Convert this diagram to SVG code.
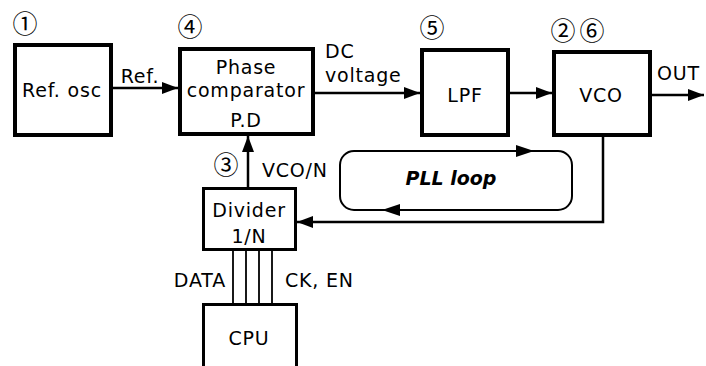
<svg xmlns="http://www.w3.org/2000/svg" width="706" height="366" viewBox="0 0 706 366">
<style>
  .box { fill: #fff; stroke: #000; stroke-width: 4; }
  .sbox { fill: #fff; stroke: #000; stroke-width: 3; }
  .t { font-family: "DejaVu Sans", "Liberation Sans", sans-serif; font-size: 19px; letter-spacing: 0.8px; fill: #000; }
  .c { text-anchor: middle; }
  .num { font-family: "Noto Sans CJK JP", "DejaVu Sans", sans-serif; font-size: 25px; fill: #000; text-anchor: middle; }
  .ln { fill: none; stroke: #000; stroke-width: 2.5; }
  .bus { fill: none; stroke: #000; stroke-width: 1.8; }
  .loop { fill: none; stroke: #000; stroke-width: 2; }
  .bi { font-family: "DejaVu Sans", "Liberation Sans", sans-serif; font-size: 19px; font-weight: bold; font-style: italic; fill: #000; }
</style>
<defs>
  <marker id="ah" viewBox="0 0 16 12" refX="16" refY="6" markerWidth="16" markerHeight="12" markerUnits="userSpaceOnUse" orient="auto">
    <path d="M0,0 L16,6 L0,12 Z" fill="#000"/>
  </marker>
</defs>
<rect width="706" height="366" fill="#fff"/>

<g id="connectors">
  <line class="ln" x1="113" y1="88" x2="178" y2="88" marker-end="url(#ah)"/>
  <line class="ln" x1="315" y1="93" x2="420" y2="93" marker-end="url(#ah)"/>
  <line class="ln" x1="510" y1="93" x2="552" y2="93" marker-end="url(#ah)"/>
  <line class="ln" x1="652" y1="95" x2="704" y2="95" marker-end="url(#ah)"/>
  <polyline class="ln" points="603,137 603,222 297,222" marker-end="url(#ah)"/>
  <line class="ln" x1="248" y1="187" x2="248" y2="136" marker-end="url(#ah)"/>
  <line class="bus" x1="233" y1="250" x2="233" y2="303"/>
  <line class="bus" x1="246" y1="250" x2="246" y2="303"/>
  <line class="bus" x1="259" y1="250" x2="259" y2="303"/>
  <line class="bus" x1="272" y1="250" x2="272" y2="303"/>
  <rect class="loop" x="340" y="151" width="232" height="59" rx="14" ry="14"/>
  <path d="M516,145 L534,151 L516,157 Z" fill="#000"/>
  <path d="M400,204 L382,210 L400,216 Z" fill="#000"/>
  <text class="t" x="325" y="58">DC</text>
  <text class="t" x="325" y="82">voltage</text>
  <text class="t c" x="140" y="83">Ref.</text>
  <text class="t" x="657" y="80">OUT</text>
  <text class="t" x="262" y="177">VCO/N</text>
  <text class="t" x="226" y="287" text-anchor="end">DATA</text>
  <text class="t" x="285" y="287">CK, EN</text>
  <text class="bi" x="451" y="185" text-anchor="middle">PLL loop</text>
</g>

<g id="refosc">
  <rect class="box" x="15" y="45" width="96" height="90"/>
  <text class="t c" x="62" y="97">Ref. osc</text>
  <text class="num" x="25" y="33">①</text>
</g>

<g id="pd">
  <rect class="box" x="180" y="49" width="133" height="85"/>
  <text class="t c" x="246" y="74">Phase</text>
  <text class="t c" x="246" y="97">comparator</text>
  <text class="t c" x="246" y="127">P.D</text>
  <text class="num" x="190" y="36">④</text>
</g>

<g id="lpf">
  <rect class="box" x="422" y="50" width="86" height="85"/>
  <text class="t c" x="465" y="102">LPF</text>
  <text class="num" x="432" y="37">⑤</text>
</g>

<g id="vco">
  <rect class="box" x="554" y="52" width="96" height="83"/>
  <text class="t c" x="601" y="102">VCO</text>
  <text class="num" x="563" y="40">②</text>
  <text class="num" x="592" y="40">⑥</text>
</g>

<g id="divider">
  <rect class="sbox" x="203.5" y="188.5" width="92" height="61"/>
  <text class="t c" x="249" y="217">Divider</text>
  <text class="t c" x="249" y="243">1/N</text>
  <text class="num" x="226" y="174">③</text>
</g>

<g id="cpu">
  <rect class="sbox" x="203.5" y="304.5" width="93" height="80"/>
  <text class="t c" x="249" y="345">CPU</text>
</g>
</svg>
